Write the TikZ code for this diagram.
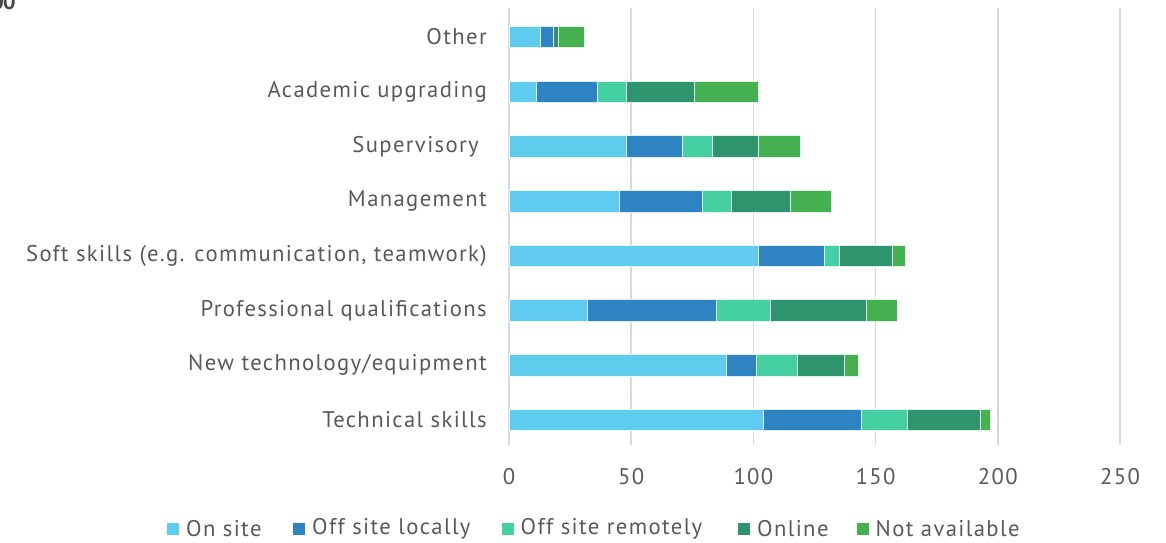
\documentclass[tikz,border=0pt]{standalone}
\usepackage{fontspec}
\setmainfont{PT Sans}[LetterSpace=6]
\usetikzlibrary{positioning}

\definecolor{txtgray}{HTML}{595959}
\definecolor{gridgray}{HTML}{D9D9D9}
\definecolor{onsite}{HTML}{5ECBEF}
\definecolor{offlocal}{HTML}{2E83C3}
\definecolor{offremote}{HTML}{44D0A2}
\definecolor{online}{HTML}{2E946E}
\definecolor{notavail}{HTML}{44B050}

\tikzset{
  gridline/.style={draw=gridgray,line width=1.2pt},
  seg/.style={fill=#1,draw=white!85!#1,line width=0.5pt},
  catlabel/.style={anchor=east,inner sep=0pt,text=txtgray},
  ticklabel/.style={inner sep=0pt,text=txtgray},
  keybox/.style={fill=#1,minimum size=9pt,inner sep=0pt},
  keytext/.style={inner sep=0pt,text=txtgray,anchor=west}
}

\begin{document}
\begin{tikzpicture}[x=0.75pt,y=-0.75pt,font=\fontsize{17}{20}\selectfont]
     \useasboundingbox (0,0) rectangle (1166,542);
     \node[anchor=base east,inner sep=0pt,font=\fontsize{17}{20}\selectfont\bfseries,text=txtgray!80!black] (cut) at (16,10) {0\kern-0.05em0};
     \foreach \v in {0,50,...,250} {
       \draw[gridline] (509+2.444*\v,8) -- (509+2.444*\v,445);
       \node[ticklabel] (tick\v) at (509+2.444*\v,477) {\v};
     }
     \foreach \n/\lab/\a/\b/\c/\d/\e [count=\i from 0] in {
         other/Other/13/18/18/20/31,
         acad/Academic upgrading/11/36/48/76/102,
         superv/Supervisory\rule{6pt}{0pt}/48/71/83/102/119,
         manag/Management/45/79/91/115/132,
         soft/{Soft skills (e.g. communication, teamwork)}/102/129/135/157/162,
         prof/Professional qualifications/32/85/107/146/159,
         newtech/{New technology/equipment}/89/101/118/137/143,
         tech/Technical skills/104/144/163/193/197} {
       \pgfmathsetmacro\yc{37+54.7*\i}
       \node[catlabel] (lab\n) at (487,\yc) {\lab};
       \draw[seg=onsite] (509,\yc-10.75) rectangle (509+2.444*\a,\yc+10.75);
       \draw[seg=offlocal] (509+2.444*\a,\yc-10.75) rectangle (509+2.444*\b,\yc+10.75);
       \draw[seg=offremote] (509+2.444*\b,\yc-10.75) rectangle (509+2.444*\c,\yc+10.75);
       \draw[seg=online] (509+2.444*\c,\yc-10.75) rectangle (509+2.444*\d,\yc+10.75);
       \draw[seg=notavail] (509+2.444*\d,\yc-10.75) rectangle (509+2.444*\e,\yc+10.75);
     }
     \node[keybox=onsite] (key1) at (173,529) {};
     \node[keytext,right=5pt of key1] (leg1) {On site};
     \node[keybox=offlocal] (key2) at (299,529) {};
     \node[keytext,right=5pt of key2] (leg2) {Off site locally};
     \node[keybox=offremote] (key3) at (507.5,529) {};
     \node[keytext,right=5pt of key3] (leg3) {Off site remotely};
     \node[keybox=online] (key4) at (744,529) {};
     \node[keytext,right=5pt of key4] (leg4) {Online};
     \node[keybox=notavail] (key5) at (862.5,529) {};
     \node[keytext,right=5pt of key5] (leg5) {Not available};
   \end{tikzpicture}
\end{document}
